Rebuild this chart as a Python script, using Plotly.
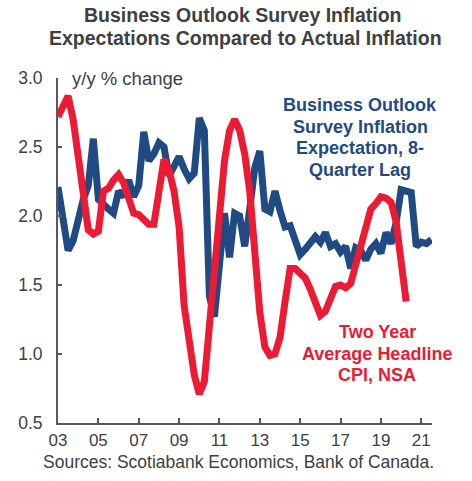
import plotly.graph_objects as go

# Quarterly observations, starting 2003Q1
start_year = 2003.0
bos_expectation = [
    2.21, 1.95, 1.75, 1.82, 1.98, 2.12, 2.22, 2.56, 2.12, 2.08,
    2.05, 2.02, 2.18, 2.14, 2.26, 2.14, 2.22, 2.61, 2.40, 2.45,
    2.53, 2.50, 2.29, 2.36, 2.43, 2.34, 2.27, 2.31, 2.71, 2.62,
    1.42, 1.27, 1.70, 2.02, 1.70, 2.02, 2.00, 1.78, 2.05, 2.35,
    2.47, 2.05, 2.03, 2.18, 2.04, 1.92, 1.93, 1.82, 1.72, 1.76,
    1.80, 1.85, 1.81, 1.88, 1.78, 1.80, 1.74, 1.78, 1.62, 1.77,
    1.75, 1.68, 1.76, 1.80, 1.73, 1.88, 1.80, 1.95, 2.19, 2.18,
    2.17, 1.78, 1.81, 1.80, 1.83,
]
cpi_two_year_avg = [
    2.72, 2.80, 2.87, 2.70, 2.42, 2.10, 1.90, 1.87, 1.89, 2.18,
    2.20, 2.26, 2.30, 2.24, 2.12, 2.02, 2.01, 1.97, 1.94, 1.94,
    2.15, 2.41, 2.33, 2.18, 1.92, 1.35, 1.10, 0.85, 0.71, 0.80,
    1.20, 1.65, 2.05, 2.40, 2.62, 2.70, 2.62, 2.45, 2.18, 1.75,
    1.30, 1.05, 0.99, 1.00, 1.12, 1.38, 1.62, 1.62, 1.58, 1.55,
    1.47, 1.36, 1.28, 1.31, 1.40, 1.49, 1.50, 1.48, 1.51, 1.65,
    1.80, 1.92, 2.05, 2.09, 2.14, 2.13, 2.10, 1.96, 1.68, 1.38,
]
tick_years = [2003, 2005, 2007, 2009, 2011, 2013, 2015, 2017, 2019, 2021]
tick_labels = ["03", "05", "07", "09", "11", "13", "15", "17", "19", "21"]
y_ticks = [0.5, 1.0, 1.5, 2.0, 2.5, 3.0]

title_lines = ["Business Outlook Survey Inflation",
               "Expectations Compared to Actual Inflation"]
bos_label_lines = ["Business Outlook", "Survey Inflation",
                   "Expectation, 8-", "Quarter Lag"]
cpi_label_lines = ["Two Year", "Average Headline", "CPI, NSA"]
source_text = "Sources: Scotiabank Economics, Bank of Canada."

BLUE = "#1f4b82"
RED = "#ec1a33"
GREY = "#404040"
AXIS = "#595959"
FONT = "Liberation Sans, Arial, sans-serif"

W, H = 472, 481
L, R, T, B = 58, 40, 78, 58
PW, PH = W - L - R, H - T - B


def px(x):
    return (x - L) / PW


def py(y):
    return (H - B - y) / PH


x_bos = [start_year + i / 4 for i in range(len(bos_expectation))]
x_cpi = [start_year + i / 4 for i in range(len(cpi_two_year_avg))]

fig = go.Figure()
fig.add_trace(go.Scatter(
    x=x_bos, y=bos_expectation, mode="lines",
    line=dict(color=BLUE, width=7), name="BOS",
))
fig.add_trace(go.Scatter(
    x=x_cpi, y=cpi_two_year_avg, mode="lines",
    line=dict(color=RED, width=7), name="CPI",
))

fig.update_layout(
    width=W, height=H,
    margin=dict(l=L, r=R, t=T, b=B),
    paper_bgcolor="white", plot_bgcolor="white",
    showlegend=False,
    font=dict(family=FONT, color=GREY, size=17.5),
)
fig.update_xaxes(
    range=[2003, 2021.53], tickvals=tick_years, ticktext=tick_labels,
    showgrid=False, zeroline=False, showline=True, linecolor=AXIS, linewidth=2,
    ticks="inside", ticklen=5, tickcolor=AXIS, tickwidth=1.5,
    ticklabelstandoff=1,
    tickfont=dict(size=17, color=GREY),
)
fig.update_yaxes(
    range=[0.5, 3.0], tickvals=y_ticks, tickformat=".1f",
    showgrid=False, zeroline=False, showline=True, linecolor=AXIS, linewidth=2,
    ticks="inside", ticklen=4, tickcolor=AXIS, tickwidth=1.5,
    ticklabelstandoff=10,
    tickfont=dict(size=17.5, color=GREY),
)


def text_line(text, x, y, size, color, bold=False, anchor="center"):
    return dict(text=f"<b>{text}</b>" if bold else text,
                xref="paper", yref="paper", x=px(x), y=py(y),
                xanchor=anchor, yanchor="middle", showarrow=False,
                font=dict(size=size, color=color, family=FONT))


annotations = []
for line, (cx, cy) in zip(title_lines, [(242.5, 15), (245.5, 38)]):
    annotations.append(text_line(line, cx, cy, 19.5, GREY, bold=True))
for i, line in enumerate(bos_label_lines):
    annotations.append(text_line(line, 360, 105 + 21.7 * i, 18, BLUE, bold=True))
for i, line in enumerate(cpi_label_lines):
    annotations.append(text_line(line, 377, 332 + 21.5 * i, 18, RED, bold=True))
annotations.append(text_line("y/y % change", 70, 78, 18.5, GREY, anchor="left"))
annotations.append(text_line(source_text, 238.5, 462, 17.5, GREY))
fig.update_layout(annotations=annotations)

fig.write_html("out.html")
